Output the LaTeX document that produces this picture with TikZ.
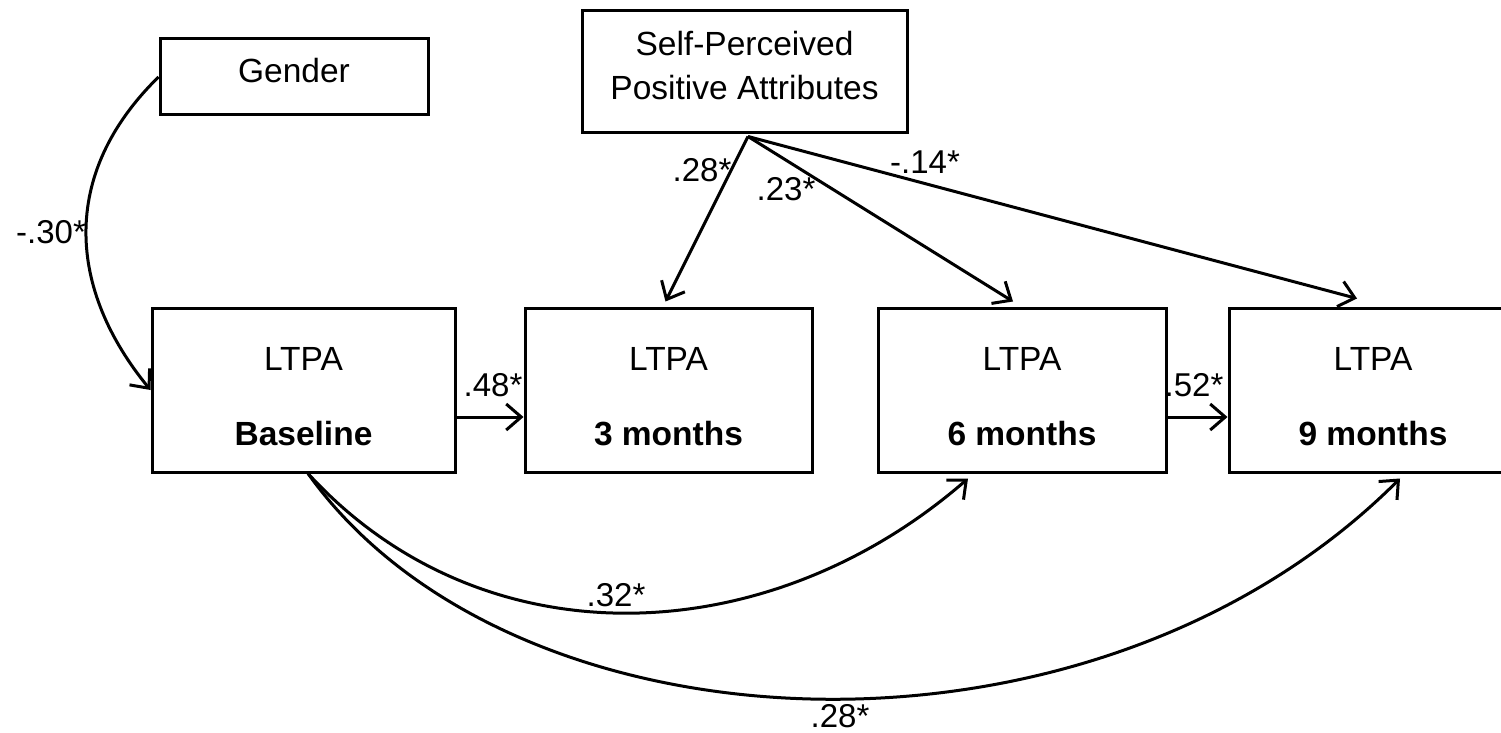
\documentclass[tikz,border=0pt]{standalone}
\usepackage{fontspec}
\setmainfont{Liberation Sans}
\usetikzlibrary{arrows.meta,calc}
\begin{document}
\begin{tikzpicture}[x=1pt,y=-1pt,
  line width=3pt,
  box/.style={draw, inner sep=0pt},
  tbox/.style={box, minimum width=288pt, minimum height=164pt},
  txt/.style={font=\fontsize{33.5}{40}\selectfont, inner sep=0pt, anchor=base},
  coef/.style={font=\fontsize{33}{40}\selectfont, inner sep=0pt},
  arr/.style={-{Straight Barb[length=15pt,width=26pt]}}
]
\useasboundingbox (0,0) rectangle (1501,733);

% variable boxes
\node[box, minimum width=268pt, minimum height=76pt] (gender) at (294,77) {};
\node[box, minimum width=325pt, minimum height=122pt] (sppa) at (744.5,72) {};
\node[tbox, minimum width=303pt] (base) at (303.5,390) {};
\node[tbox, minimum width=287pt] (m3) at (668.5,390) {};
\node[tbox] (m6) at (1022,390) {};
\node[tbox] (m9) at (1373,390) {};

% box texts
\node[txt] (gender-t) at (294,83) {Gender};
\node[txt] (sppa-t1) at (744.5,56) {Self-Perceived};
\node[txt] (sppa-t2) at (744.5,100) {Positive Attributes};
\node[txt] (base-t1) at ($(base.center)+(0,-20)$) {LTPA};
\node[txt] (base-t2) at ($(base.center)+(0,55)$) {\bfseries Baseline};
\node[txt] (m3-t1) at ($(m3.center)+(0,-20)$) {LTPA};
\node[txt] (m3-t2) at ($(m3.center)+(0,55)$) {\bfseries 3 months};
\node[txt] (m6-t1) at ($(m6.center)+(0,-20)$) {LTPA};
\node[txt] (m6-t2) at ($(m6.center)+(0,55)$) {\bfseries 6 months};
\node[txt] (m9-t1) at ($(m9.center)+(0,-20)$) {LTPA};
\node[txt] (m9-t2) at ($(m9.center)+(0,55)$) {\bfseries 9 months};

% connector end points
\coordinate (sp) at ($(sppa.south)+(3.5,2)$);
\coordinate (m3top) at ($(m3.north)+(-3,-5)$);
\coordinate (m6top) at ($(m6.north)+(-9,-5)$);
\coordinate (m9top) at ($(m9.north)+(-16,-8)$);
\coordinate (bbot) at ($(base.south)+(4.5,0)$);
\coordinate (m6bot) at ($(m6.south)+(-54,5)$);
\coordinate (m9bot) at ($(m9.south)+(27,5)$);

% paths
\draw[arr] (gender.west) .. controls +(-100,98) and +(-82,-100) .. (base.west);
\draw[arr] (sp) -- (m3top);
\draw[arr] (sp) -- (m6top);
\draw[arr] (sp) -- (m9top);
\draw[arr] ($(base.east)+(0,27)$) -- ($(m3.west)+(0,27)$);
\draw[arr] ($(m6.east)+(0,27)$) -- ($(m9.west)+(0,27)$);
\draw[arr] (bbot) .. controls +(175,191) and +(-200,174) .. (m6bot);
\draw[arr] (bbot) .. controls +(204,286) and +(-308,308) .. (m9bot);

% path coefficients
\node[coef] (c1) at (51,232) {-.30*};
\node[coef] (c2) at (702,170) {.28*};
\node[coef] (c3) at (786,189) {.23*};
\node[coef] (c4) at (925,162) {-.14*};
\node[coef] (c5) at (493,385) {.48*};
\node[coef] (c6) at (1194,385) {.52*};
\node[coef] (c7) at (616,595) {.32*};
\node[coef] (c8) at (840,716) {.28*};
\end{tikzpicture}
\end{document}
